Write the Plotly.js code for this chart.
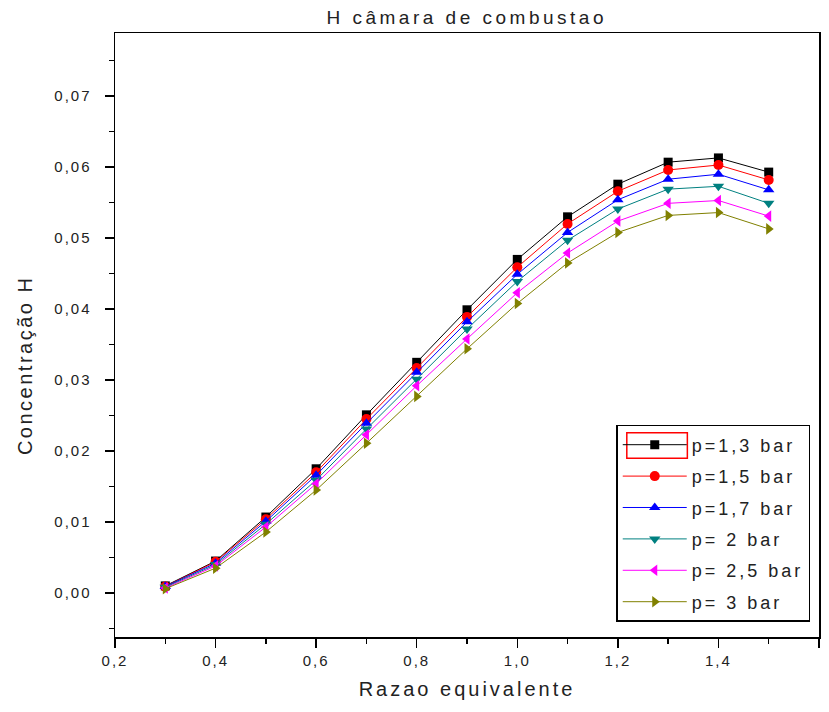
<!DOCTYPE html>
<html>
<head>
<meta charset="utf-8">
<script src="https://cdn.plot.ly/plotly-3.0.1.min.js"></script>
<style>
html,body{margin:0;padding:0;background:#fff;}
.gtitle{letter-spacing:3.5px;}
.xtitle{letter-spacing:3px;}
.annotation-text{letter-spacing:2.5px;}
.xtick text,.ytick text{letter-spacing:2px;}
.legendtext{letter-spacing:3px;}
</style>
</head>
<body>
<div id="chart" style="width:829px;height:712px;"></div>
<script>
const razao = [0.3, 0.4, 0.5, 0.6, 0.7, 0.8, 0.9, 1.0, 1.1, 1.2, 1.3, 1.4, 1.5];
const seriesNames = ["p=1,3 bar", "p=1,5 bar", "p=1,7 bar", "p= 2 bar", "p= 2,5 bar", "p= 3 bar"];
const p13 = [0.0010, 0.0045, 0.0107, 0.0175, 0.0251, 0.0325, 0.0399, 0.0470, 0.0530, 0.0576, 0.0607, 0.0613, 0.0593];
const p15 = [0.0009, 0.0044, 0.0104, 0.0170, 0.0245, 0.0317, 0.0389, 0.0459, 0.0520, 0.0566, 0.0596, 0.0603, 0.0582];
const p17 = [0.0009, 0.0042, 0.0101, 0.0166, 0.0239, 0.0311, 0.0382, 0.0449, 0.0508, 0.0554, 0.0583, 0.0590, 0.0568];
const p20 = [0.0008, 0.0040, 0.0097, 0.0159, 0.0231, 0.0301, 0.0372, 0.0439, 0.0497, 0.0541, 0.0569, 0.0573, 0.0549];
const p25 = [0.0007, 0.0038, 0.0093, 0.0154, 0.0223, 0.0292, 0.0358, 0.0423, 0.0479, 0.0524, 0.0549, 0.0553, 0.0531];
const p30 = [0.0006, 0.0035, 0.0086, 0.0145, 0.0211, 0.0277, 0.0344, 0.0408, 0.0465, 0.0508, 0.0532, 0.0536, 0.0513];

const allSeries = [p13, p15, p17, p20, p25, p30];
const colors = ["#000000", "#ff0000", "#0000ff", "#008080", "#ff00ff", "#808000"];
const symbols = ["square", "circle", "triangle-up", "triangle-down", "triangle-left", "triangle-right"];

const traces = allSeries.map((ys, i) => ({
  x: razao,
  y: ys,
  name: seriesNames[i],
  legendgroup: "g" + i,
  type: "scatter",
  mode: "lines+markers",
  line: {color: colors[i], width: 1},
  marker: {color: colors[i], symbol: symbols[i], size: i === 0 ? 9 : 10, line: {width: 0}}
}));

const font = "Liberation Sans, Arial, sans-serif";
const txt = "#222";
const layout = {
  width: 829, height: 712,
  paper_bgcolor: "#fff", plot_bgcolor: "#fff",
  margin: {l: 115, r: 10, t: 33, b: 75},
  showlegend: true,
  title: {text: "H câmara de combustao", font: {family: font, size: 19, color: txt}, x: 0.563, xanchor: "center", y: 0.975, yanchor: "middle"},
  xaxis: {
    title: {text: "Razao equivalente", font: {family: font, size: 20, color: txt}, standoff: 14},
    range: [0.2, 1.6], dtick: 0.2, tick0: 0.2,
    ticks: "outside", ticklen: 9, tickwidth: 1.5, tickcolor: "#000",
    minor: {dtick: 0.1, ticks: "outside", ticklen: 5, tickcolor: "#000", tickwidth: 1.5, showgrid: false},
    showline: true, linecolor: "#000", linewidth: 1.5, mirror: true,
    showgrid: false, zeroline: false,
    tickformat: ".1f",
    tickfont: {family: font, size: 15, color: txt}
  },
  yaxis: {
    range: [-0.0062, 0.0789], dtick: 0.01, tick0: 0,
    ticks: "outside", ticklen: 9, tickwidth: 1.5, tickcolor: "#000",
    minor: {dtick: 0.005, ticks: "outside", ticklen: 5, tickcolor: "#000", tickwidth: 1.5, showgrid: false},
    showline: true, linecolor: "#000", linewidth: 1.5, mirror: true,
    showgrid: false, zeroline: false,
    tickformat: ".2f", ticklabelstandoff: 10,
    tickfont: {family: font, size: 15, color: txt}
  },
  annotations: [{
    text: "Concentração H", xref: "paper", yref: "paper",
    x: -0.128, y: 0.45, xanchor: "center", yanchor: "middle",
    textangle: -90, showarrow: false,
    font: {family: font, size: 20, color: txt}
  }],
  shapes: [{
    type: "rect", xref: "paper", yref: "paper",
    x0: 0.727, x1: 0.813, y0: 0.296, y1: 0.338,
    line: {color: "#ff0000", width: 1.5}, layer: "above"
  }],
  separators: ",.",
  legend: {
    x: 0.712, y: 0.351, xanchor: "left", yanchor: "top",
    bgcolor: "rgba(255,255,255,0)", bordercolor: "#000", borderwidth: 1.5,
    font: {family: font, size: 18, color: txt},
    itemwidth: 64, tracegroupgap: 5
  }
};

Plotly.newPlot("chart", traces, layout, {displayModeBar: false, staticPlot: true});
</script>
</body>
</html>
